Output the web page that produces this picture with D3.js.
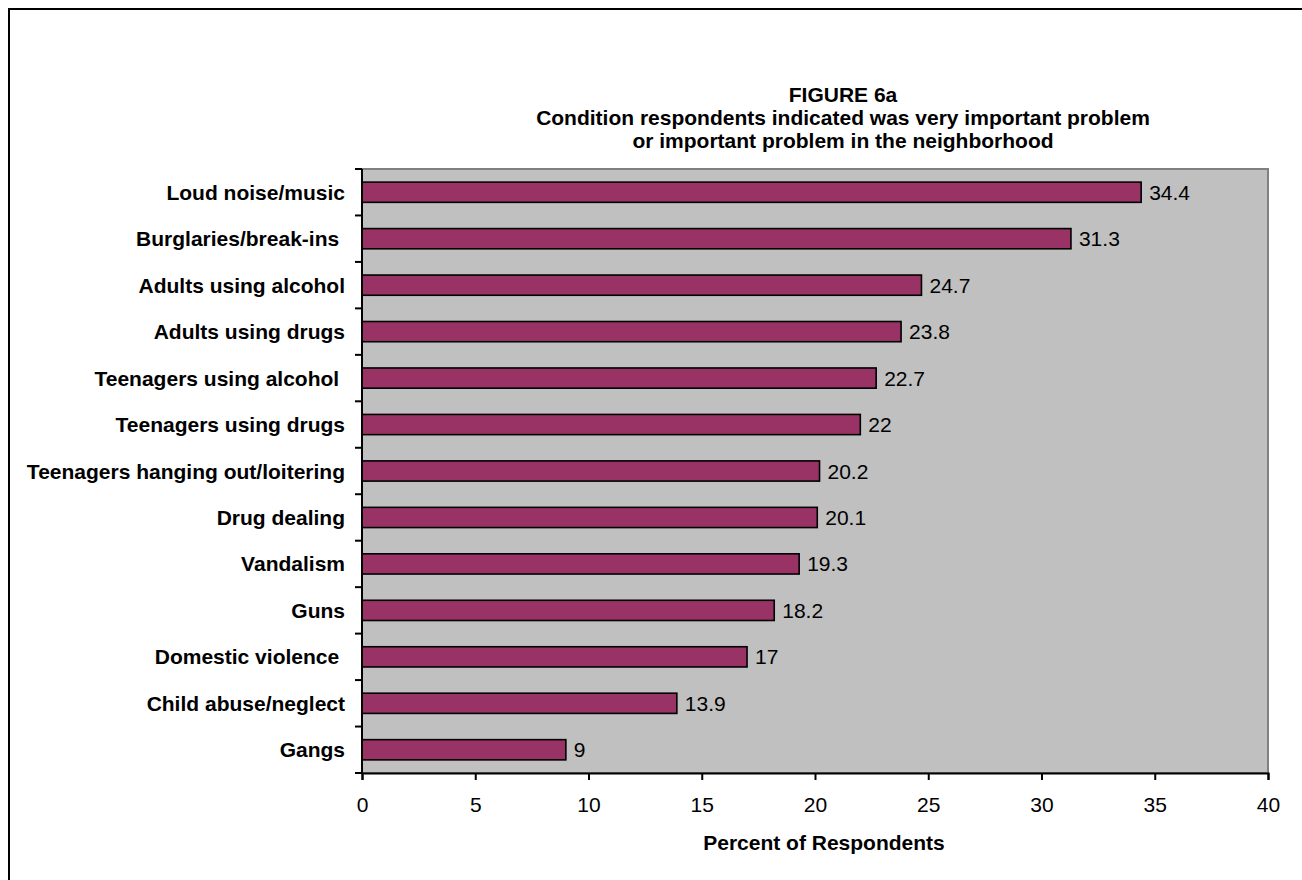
<!DOCTYPE html>
<html>
<head>
<meta charset="utf-8">
<script src="https://cdn.jsdelivr.net/npm/d3@7"></script>
<style>
  html, body { margin: 0; padding: 0; background: #fff; }
  svg { display: block; font-family: "Liberation Sans", Arial, sans-serif; }
  text { white-space: pre; }
</style>
</head>
<body>
<svg id="chart" width="1302" height="880"></svg>
<script>
// Survey results: share of respondents rating each condition a problem
const categories = [
  "Loud noise/music",
  "Burglaries/break-ins ",
  "Adults using alcohol",
  "Adults using drugs",
  "Teenagers using alcohol ",
  "Teenagers using drugs",
  "Teenagers hanging out/loitering",
  "Drug dealing",
  "Vandalism",
  "Guns",
  "Domestic violence ",
  "Child abuse/neglect",
  "Gangs"
];
const values = [34.4, 31.3, 24.7, 23.8, 22.7, 22, 20.2, 20.1, 19.3, 18.2, 17, 13.9, 9];
const xTicks = [0, 5, 10, 15, 20, 25, 30, 35, 40];
const titleLines = [
  "FIGURE 6a",
  "Condition respondents indicated was very important problem",
  "or important problem in the neighborhood"
];
const xTitle = "Percent of Respondents";

const FS = 21;
const svg = d3.select("#chart");

// outer chart frame (only top and left edges fall inside the page)
svg.append("path")
  .attr("d", "M9,880 V9 H1302")
  .attr("fill", "none")
  .attr("stroke", "#000")
  .attr("stroke-width", 2);

const plot = { left: 362, right: 1268, top: 169, bottom: 773 };

const x = d3.scaleLinear().domain([0, 40]).range([plot.left, plot.right]);
const y = d3.scaleBand()
  .domain(categories)
  .range([plot.top, plot.bottom])
  .paddingInner(0.565)
  .paddingOuter(0.2825);

// plot background
svg.append("rect")
  .attr("x", plot.left).attr("y", plot.top)
  .attr("width", plot.right - plot.left).attr("height", plot.bottom - plot.top)
  .attr("fill", "#C0C0C0")
  .attr("stroke", "#808080")
  .attr("stroke-width", 2);

// bars
svg.append("g").selectAll("rect")
  .data(values)
  .join("rect")
  .attr("x", x(0))
  .attr("y", (d, i) => y(categories[i]))
  .attr("width", d => x(d) - x(0))
  .attr("height", y.bandwidth())
  .attr("fill", "#993366")
  .attr("stroke", "#000")
  .attr("stroke-width", 1.6);

// value labels
svg.append("g").selectAll("text")
  .data(values)
  .join("text")
  .attr("x", d => x(d) + 8)
  .attr("y", (d, i) => y(categories[i]) + y.bandwidth() / 2)
  .attr("dy", "0.36em")
  .attr("font-size", FS)
  .attr("fill", "#000")
  .text(d => d);

// category axis: line, boundary ticks, labels
const step = y.step();
const yAxis = svg.append("g");
yAxis.append("line")
  .attr("x1", plot.left).attr("x2", plot.left)
  .attr("y1", plot.top).attr("y2", plot.bottom)
  .attr("stroke", "#000").attr("stroke-width", 2);
yAxis.selectAll("line.tick")
  .data(d3.range(categories.length + 1))
  .join("line")
  .attr("class", "tick")
  .attr("x1", plot.left - 7).attr("x2", plot.left)
  .attr("y1", i => plot.top + i * step)
  .attr("y2", i => plot.top + i * step)
  .attr("stroke", "#000").attr("stroke-width", 2);
yAxis.selectAll("text")
  .data(categories)
  .join("text")
  .attr("x", 345)
  .attr("y", d => y(d) + y.bandwidth() / 2)
  .attr("dy", "0.36em")
  .attr("text-anchor", "end")
  .attr("font-size", FS)
  .attr("font-weight", "bold")
  .text(d => d);

// value axis
const xAxis = svg.append("g")
  .attr("transform", `translate(0,${plot.bottom})`)
  .call(d3.axisBottom(x).tickValues(xTicks).tickSize(7).tickPadding(17).tickFormat(d3.format("d")));
xAxis.select(".domain").attr("stroke", "#000").attr("stroke-width", 2);
xAxis.selectAll(".tick line").attr("stroke", "#000").attr("stroke-width", 2);
xAxis.selectAll(".tick text")
  .attr("font-size", FS)
  .attr("font-family", "Liberation Sans, Arial, sans-serif")
  .attr("fill", "#000");

// axis title
svg.append("text")
  .attr("x", 824).attr("y", 850)
  .attr("text-anchor", "middle")
  .attr("font-size", FS)
  .attr("font-weight", "bold")
  .text(xTitle);

// chart title
svg.append("g").selectAll("text")
  .data(titleLines)
  .join("text")
  .attr("x", 843)
  .attr("y", (d, i) => 102 + i * 23)
  .attr("text-anchor", "middle")
  .attr("font-size", FS)
  .attr("font-weight", "bold")
  .text(d => d);
</script>
</body>
</html>
